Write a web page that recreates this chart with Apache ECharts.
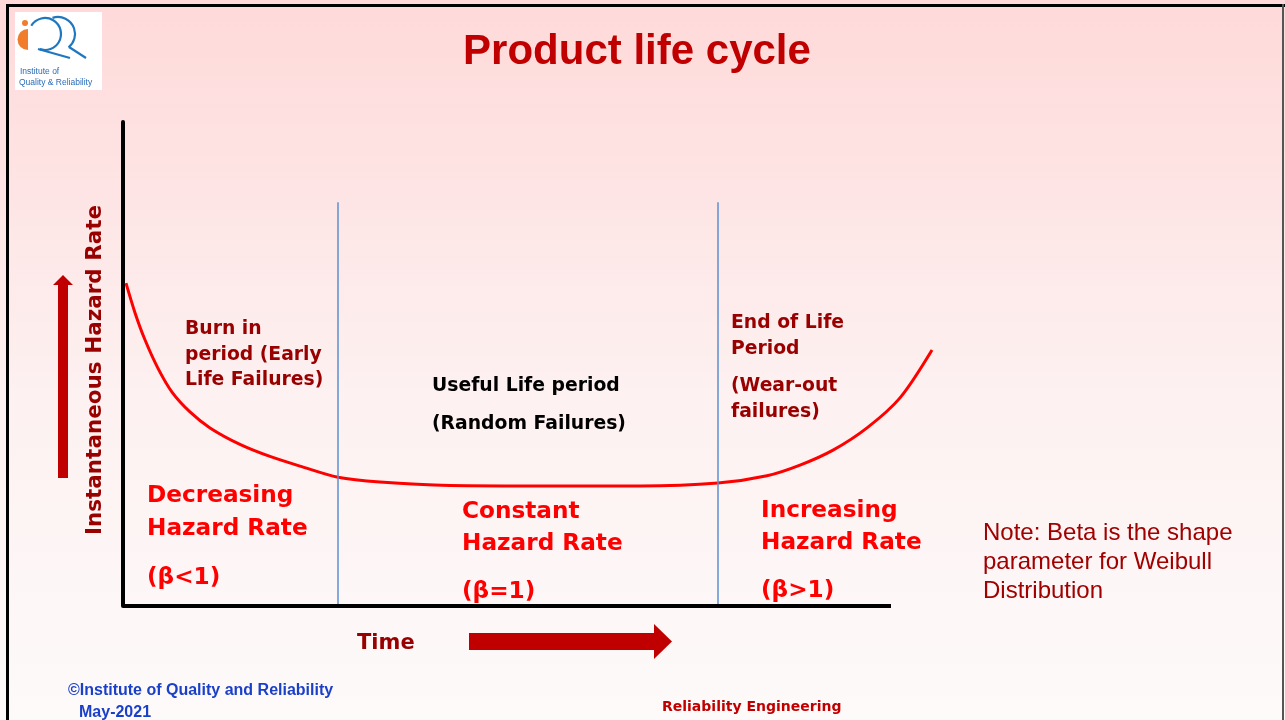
<!DOCTYPE html>
<html>
<head>
<meta charset="utf-8">
<script src="https://cdn.jsdelivr.net/npm/echarts@6/dist/echarts.min.js"></script>
<style>
html,body{margin:0;padding:0;width:1285px;height:720px;overflow:hidden;background:#fff;}
#c{width:1285px;height:720px;}
</style>
</head>
<body>
<div id="c"></div>
<script>
// ---- data (abstract units: time axis drawn 0-100, hazard 0-100) ----
const timeValues   = [0.39, 1.56, 2.86, 4.56, 6.38, 8.72, 11.33, 15.23, 19.14, 23.05, 27.99, 33.46, 42.58, 55.60, 67.32, 77.47, 83.85, 88.15, 92.45, 96.88, 101.17, 105.34];
const hazardValues = [66.7, 60.6, 55.0, 49.1, 44.2, 40.1, 36.8, 33.4, 30.9, 28.9, 26.6, 25.6, 24.9, 24.8, 24.8, 25.4, 26.9, 29.1, 32.2, 36.8, 43.0, 52.9];
const phaseBoundaries = [28.0, 77.5];
const boundaryTop = 83.4;
const timeAxisEnd = 100;

const titleText = 'Product life cycle';
const yAxisName = 'Instantaneous Hazard Rate';
const xAxisName = 'Time';

const chart = echarts.init(document.getElementById('c'), null, {renderer: 'canvas'});
const curveData = timeValues.map((t, i) => [t, hazardValues[i]]);

const BOLDV = '"DejaVu Sans", Verdana, sans-serif';
const ARIAL = '"Liberation Sans", Arial, sans-serif';
const DARKRED = '#990000';
const RED = '#ff0000';
const BRICK = '#c00000';
const DY = 2;

function txt(text, x, y, size, color, family, opts) {
  opts = opts || {};
  return {
    type: 'text', x: x, y: y + DY, z: 10,
    rotation: opts.rotation || 0,
    style: {
      text: text,
      fill: color,
      font: (opts.weight || 'bold') + ' ' + size + 'px ' + family,
      textAlign: opts.align || 'left',
      textVerticalAlign: 'middle',
      lineHeight: opts.lineHeight || size * 1.2
    }
  };
}

const markLines = phaseBoundaries.map(b => [{coord: [b, 0]}, {coord: [b, boundaryTop]}]);
markLines.push([
  {coord: [0, 0], lineStyle: {color: '#000', width: 4}},
  {coord: [timeAxisEnd, 0]}
]);

const option = {
  backgroundColor: new echarts.graphic.LinearGradient(0, 0, 0, 1, [
    {offset: 0, color: '#ffd9d9'},
    {offset: 0.55, color: '#fdf1f1'},
    {offset: 1, color: '#fdfafa'}
  ]),
  animation: false,
  grid: {left: 123, top: 122, width: 814.08, height: 484},
  xAxis: {
    type: 'value', min: 0, max: 106,
    axisLine: {show: false},
    axisTick: {show: false}, axisLabel: {show: false}, splitLine: {show: false}
  },
  yAxis: {
    type: 'value', min: 0, max: 100,
    axisLine: {show: true, onZero: false, lineStyle: {color: '#000', width: 4}},
    axisTick: {show: false}, axisLabel: {show: false}, splitLine: {show: false}
  },
  series: [{
    type: 'line',
    data: curveData,
    smooth: 0.3,
    clip: false,
    symbol: 'none',
    lineStyle: {color: RED, width: 3},
    z: 3,
    markLine: {
      silent: true,
      symbol: 'none',
      label: {show: false},
      lineStyle: {color: '#5b8fd0', width: 1.5, type: 'solid'},
      data: markLines
    }
  }],
  graphic: [
    // slide frame
    {type: 'rect', shape: {x: 6, y: 4, width: 1300, height: 3}, style: {fill: '#000'}, z: 20},
    {type: 'rect', shape: {x: 6, y: 4, width: 3, height: 720}, style: {fill: '#000'}, z: 20},
    {type: 'rect', shape: {x: 1282, y: 4, width: 2, height: 720}, style: {fill: '#555'}, z: 20},
    // logo
    {type: 'rect', shape: {x: 15, y: 12, width: 87, height: 78}, style: {fill: '#fff'}, z: 5},
    {type: 'circle', shape: {cx: 25, cy: 23, r: 3}, style: {fill: '#f07c2c'}, z: 6},
    {type: 'sector', shape: {cx: 28, cy: 39.5, r0: 0, r: 10.5, startAngle: Math.PI / 2, endAngle: Math.PI * 1.5, clockwise: true}, style: {fill: '#f07c2c'}, z: 6},
    {type: 'arc', shape: {cx: 45, cy: 34, r: 16, startAngle: -2.6, endAngle: 1.9, clockwise: true}, style: {fill: 'none', stroke: '#1f77c0', lineWidth: 2.2}, z: 6},
    {type: 'line', shape: {x1: 38, y1: 49, x2: 70, y2: 58}, style: {stroke: '#1f77c0', lineWidth: 2.2}, z: 6},
    {type: 'arc', shape: {cx: 58, cy: 34, r: 17, startAngle: -1.9, endAngle: 0.9, clockwise: true}, style: {fill: 'none', stroke: '#1f77c0', lineWidth: 2.2}, z: 6},
    {type: 'line', shape: {x1: 69, y1: 47, x2: 86, y2: 58}, style: {stroke: '#1f77c0', lineWidth: 2.2}, z: 6},
    txt('Institute of', 20, 70, 8.5, '#2a6cb8', ARIAL, {weight: 'normal'}),
    txt('Quality & Reliability', 19, 81, 8.5, '#2a6cb8', ARIAL, {weight: 'normal'}),
    // title
    txt(titleText, 637, 50, 42, BRICK, ARIAL, {align: 'center'}),
    // y axis label and arrow
    {type: 'text', x: 95, y: 370, z: 10, rotation: Math.PI / 2,
      style: {text: yAxisName, fill: DARKRED, font: 'bold 21.5px ' + BOLDV, textAlign: 'center', textVerticalAlign: 'middle'}},
    {type: 'polygon', shape: {points: [[58, 478], [68, 478], [68, 285], [73, 285], [63, 275], [53, 285], [58, 285]]}, style: {fill: BRICK}, z: 6},
    // x axis label and arrow
    txt(xAxisName, 357, 642, 21, DARKRED, BOLDV),
    {type: 'polygon', shape: {points: [[469, 633], [654, 633], [654, 624], [672, 641.5], [654, 659], [654, 650], [469, 650]]}, style: {fill: BRICK}, z: 6},
    // phase descriptions
    txt('Burn in\nperiod (Early\nLife Failures)', 185, 353, 18.8, DARKRED, BOLDV, {lineHeight: 25.5}),
    txt('Useful Life period', 432, 384, 18.8, '#000', BOLDV),
    txt('(Random Failures)', 432, 422, 18.8, '#000', BOLDV),
    txt('End of Life\nPeriod', 731, 334, 18.8, DARKRED, BOLDV, {lineHeight: 26}),
    txt('(Wear-out\nfailures)', 731, 397, 18.8, DARKRED, BOLDV, {lineHeight: 25.5}),
    // hazard rate labels
    txt('Decreasing\nHazard Rate', 147, 510, 23.2, RED, BOLDV, {lineHeight: 33}),
    txt('(\u03b2<1)', 147, 576, 23.2, RED, BOLDV),
    txt('Constant\nHazard Rate', 462, 526, 23.2, RED, BOLDV, {lineHeight: 32}),
    txt('(\u03b2=1)', 462, 590, 23.2, RED, BOLDV),
    txt('Increasing\nHazard Rate', 761, 525, 23.2, RED, BOLDV, {lineHeight: 32}),
    txt('(\u03b2>1)', 761, 589, 23.2, RED, BOLDV),
    // note
    txt('Note: Beta is the shape\nparameter for Weibull\nDistribution', 983, 560, 24, '#a00000', ARIAL, {weight: 'normal', lineHeight: 29}),
    // footer
    txt('\u00a9Institute of Quality and Reliability', 68, 689, 16, '#1a3fc8', ARIAL),
    txt('May-2021', 79, 711, 16, '#1a3fc8', ARIAL),
    txt('Reliability Engineering', 662, 705, 14, BRICK, BOLDV)
  ]
};
chart.setOption(option);
</script>
</body>
</html>
